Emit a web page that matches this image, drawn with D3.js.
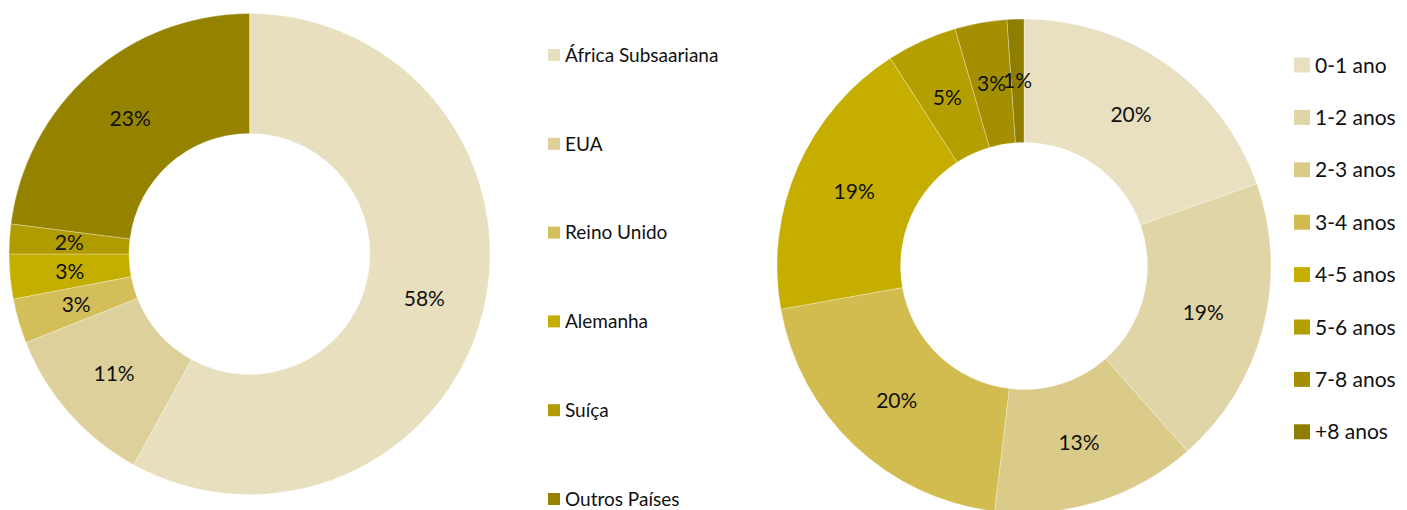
<!DOCTYPE html>
<html lang="pt">
<head>
  <meta charset="UTF-8">
  <title>donuts</title>
  <style>
    body { margin: 0; background: #fff; }
    svg { display: block; font-family: Lato, "Noto Sans", sans-serif; }
  </style>
</head>
<body>
<div id="wrapper"></div>
<script src="https://cdnjs.cloudflare.com/ajax/libs/d3/7.8.5/d3.min.js"></script>
<script>

// left donut - origem
const origins = ["África Subsaariana", "EUA", "Reino Unido", "Alemanha", "Suíça", "Outros Países"]
const originValues = [58, 11, 3, 3, 2, 23]
const originColors = ["#e7dfbd", "#ddd09b", "#d4be5a", "#c4ae00", "#b19c00", "#958300"]

// right donut - antiguidade
const ages = ["0-1 ano", "1-2 anos", "2-3 anos", "3-4 anos", "4-5 anos", "5-6 anos", "7-8 anos", "+8 anos"]
const ageValues = [19.6, 18.9, 13.4, 20.3, 18.7, 4.6, 3.4, 1.1]
const ageColors = ["#e8e0c1", "#e0d5a7", "#dacb8a", "#d2bc4f", "#c5ae00", "#b49f00", "#a38f00", "#8f7d00"]

const width = 1407
const height = 510

const svg = d3.select("#wrapper")
  .append("svg")
  .attr("width", width)
  .attr("height", height)

const pct = d => Math.round(d) + "%"

function drawDonut(cx, cy, outer, inner, values, colors) {
  const pie = d3.pie().sort(null).value(d => d)
  const arc = d3.arc().innerRadius(inner).outerRadius(outer)
  const g = svg.append("g").attr("transform", "translate(" + cx + "," + cy + ")")
  const arcs = pie(values)

  g.selectAll("path")
    .data(arcs)
    .join("path")
    .attr("d", arc)
    .attr("fill", (d, i) => colors[i])
    .attr("stroke", "#ffffff")
    .attr("stroke-opacity", 0.5)
    .attr("stroke-width", 0.6)

  g.selectAll("text")
    .data(arcs)
    .join("text")
    .attr("transform", d => "translate(" + arc.centroid(d) + ")")
    .attr("text-anchor", "middle")
    .attr("dy", "0.36em")
    .attr("font-size", 21)
    .attr("fill", "#111")
    .text(d => pct(d.data))
}

function drawLegend(x, y0, step, box, fontSize, textX, names, colors) {
  const yScale = d3.scalePoint().domain(names).range([y0, y0 + step * (names.length - 1)])
  const lg = svg.append("g")
  const rows = lg.selectAll("g")
    .data(names)
    .join("g")
    .attr("transform", d => "translate(" + x + "," + yScale(d) + ")")
  rows.append("rect")
    .attr("x", 0)
    .attr("y", -box[1] / 2)
    .attr("width", box[0])
    .attr("height", box[1])
    .attr("fill", (d, i) => colors[i])
  rows.append("text")
    .attr("x", textX)
    .attr("dy", "0.36em")
    .attr("font-size", fontSize)
    .attr("fill", "#111")
    .text(d => d)
}

drawDonut(249.5, 254, 240.5, 120.5, originValues, originColors)
// last row sits right on the bottom edge, pulled up a touch so it isn't clipped
drawLegend(548, 55, 88.8, [12, 12], 19, 17, origins, originColors)

drawDonut(1024, 266, 247, 123.5, ageValues, ageColors)
drawLegend(1294, 65, 52.4, [16, 15], 21, 21, ages, ageColors)

</script>
</body>
</html>
